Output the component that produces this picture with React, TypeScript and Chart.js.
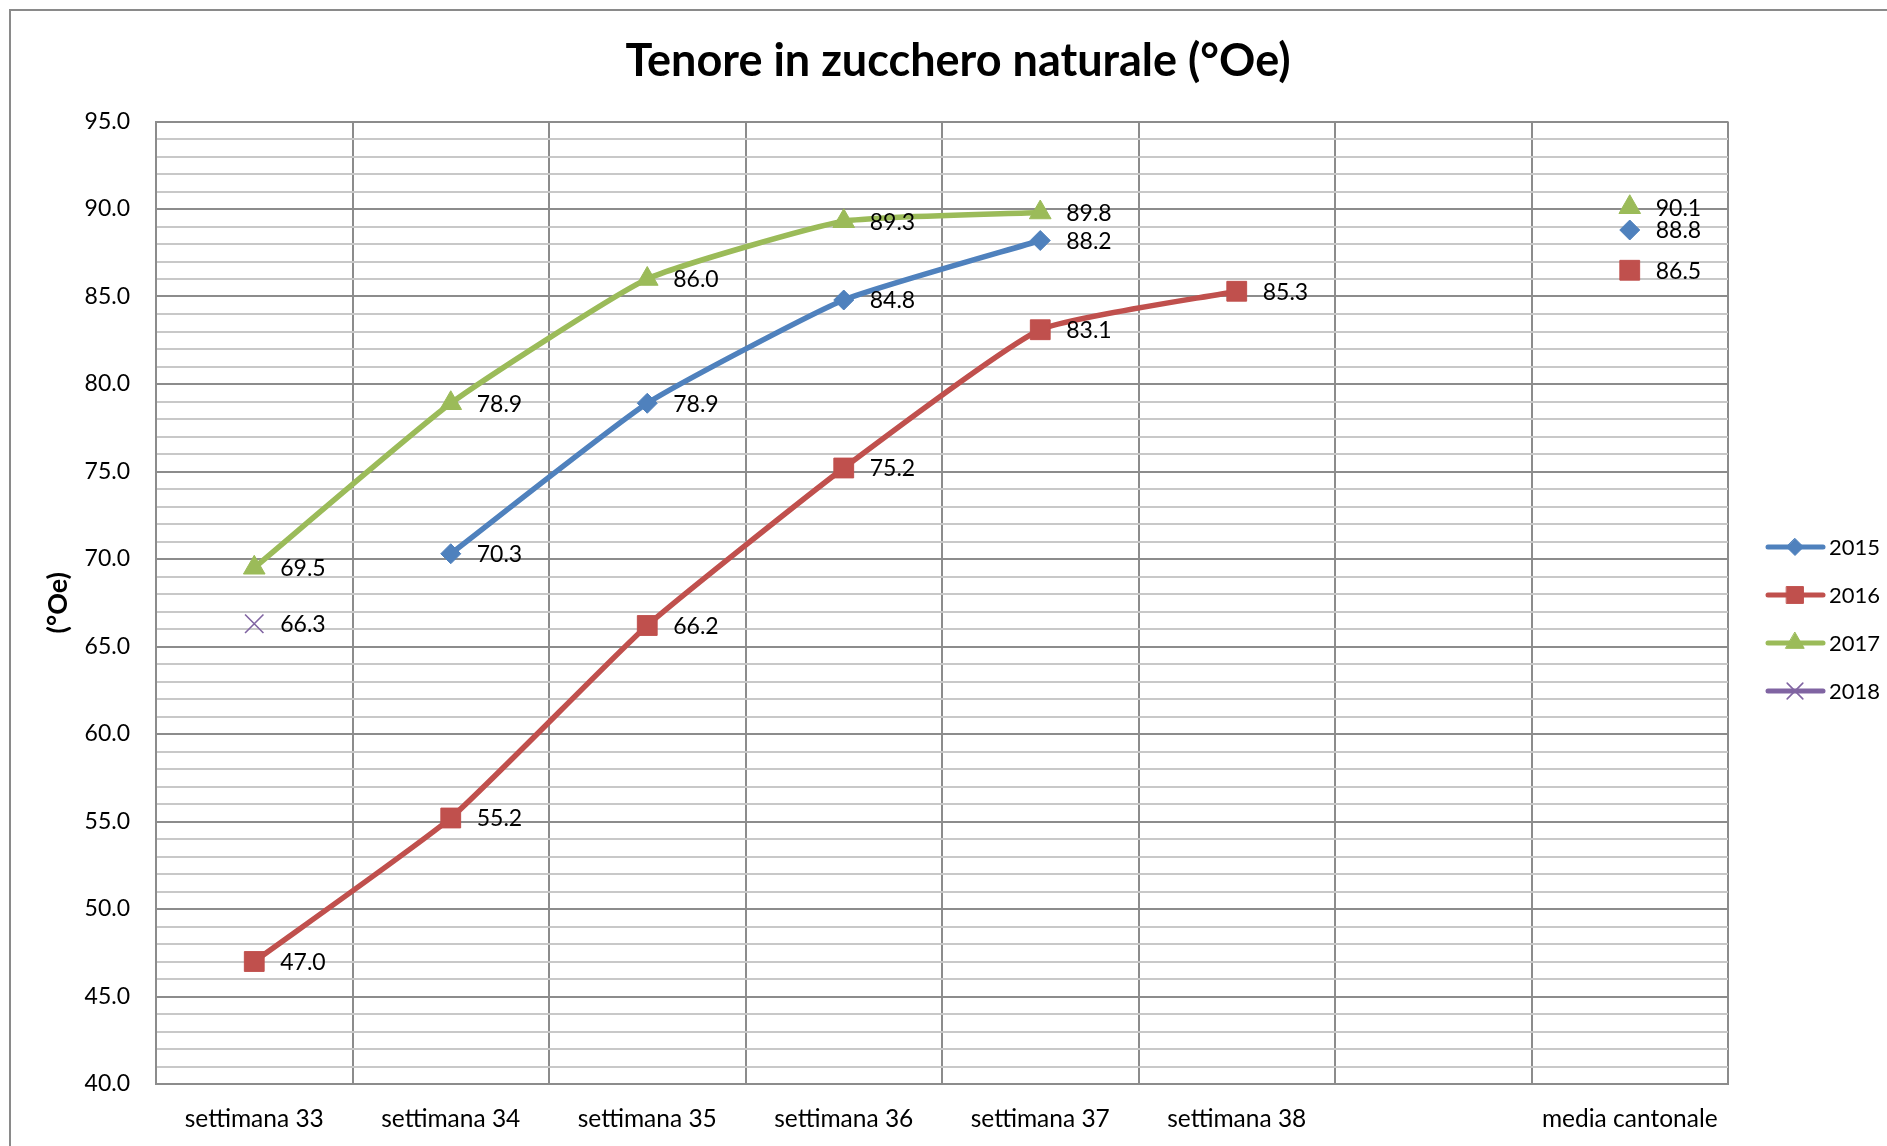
import React, { useEffect, useRef } from "react";
import { Chart, registerables } from "chart.js";

Chart.register(...registerables);

const TITLE = "Tenore in zucchero naturale (°Oe)";
const Y_TITLE = "(°Oe)";
const categories = [
  "settimana 33",
  "settimana 34",
  "settimana 35",
  "settimana 36",
  "settimana 37",
  "settimana 38",
  "",
  "media cantonale",
];
const series2015 = [null, 70.3, 78.9, 84.8, 88.2, null, null, 88.8];
const series2016 = [47.0, 55.2, 66.2, 75.2, 83.1, 85.3, null, 86.5];
const series2017 = [69.5, 78.9, 86.0, 89.3, 89.8, null, null, 90.1];
const series2018 = [66.3, null, null, null, null, null, null, null];
const seriesNames = ["2015", "2016", "2017", "2018"];
const Y_MIN = 40;
const Y_MAX = 95;

const COLORS = ["#4F81BD", "#C0504D", "#9BBB59", "#8064A2"];
const STYLES = ["rectRot", "rect", "triangle", "crossRot"];
const RADII = [10, 14, 12.5, 13];
const FONT = "Lato, 'Open Sans', sans-serif";

function drawMarker(ctx: CanvasRenderingContext2D, style: string, x: number, y: number, r: number, color: string) {
  ctx.save();
  ctx.fillStyle = color;
  ctx.strokeStyle = color;
  ctx.lineWidth = 1;
  ctx.beginPath();
  if (style === "rectRot") {
    ctx.moveTo(x, y - r);
    ctx.lineTo(x + r, y);
    ctx.lineTo(x, y + r);
    ctx.lineTo(x - r, y);
    ctx.closePath();
    ctx.fill();
    ctx.stroke();
  } else if (style === "rect") {
    const s = r * Math.SQRT1_2;
    ctx.rect(x - s, y - s, 2 * s, 2 * s);
    ctx.fill();
    ctx.stroke();
  } else if (style === "triangle") {
    ctx.moveTo(x, y - r);
    ctx.lineTo(x + r * 0.866, y + r * 0.5);
    ctx.lineTo(x - r * 0.866, y + r * 0.5);
    ctx.closePath();
    ctx.fill();
    ctx.stroke();
  } else {
    const s = r * Math.SQRT1_2;
    ctx.lineWidth = 1.6;
    ctx.moveTo(x - s, y - s);
    ctx.lineTo(x + s, y + s);
    ctx.moveTo(x + s, y - s);
    ctx.lineTo(x - s, y + s);
    ctx.stroke();
  }
  ctx.restore();
}

const framePlugin = {
  id: "frame",
  beforeDraw(chart: any) {
    const ctx = chart.ctx;
    ctx.save();
    ctx.fillStyle = "#ffffff";
    ctx.fillRect(0, 0, chart.width, chart.height);
    ctx.strokeStyle = "#8a8a8a";
    ctx.lineWidth = 2;
    ctx.strokeRect(10, 10, 1950, 1250);
    ctx.restore();
  },
  afterDraw(chart: any) {
    const ctx = chart.ctx;
    ctx.save();
    ctx.fillStyle = "#000";
    ctx.font = `bold 45px ${FONT}`;
    ctx.textAlign = "center";
    ctx.textBaseline = "middle";
    ctx.fillText(TITLE, 958, 61);
    // legend
    const lx0 = 1768, lx1 = 1823, mx = 1795, tx = 1829;
    chart.data.datasets.forEach((ds: any, i: number) => {
      const y = 547 + 48 * i;
      ctx.strokeStyle = COLORS[i];
      ctx.lineWidth = 5;
      ctx.lineCap = "round";
      ctx.beginPath();
      ctx.moveTo(lx0, y);
      ctx.lineTo(lx1, y);
      ctx.stroke();
      drawMarker(ctx, STYLES[i], mx, y, RADII[i] * 0.85, COLORS[i]);
      ctx.fillStyle = "#000";
      ctx.font = `22px ${FONT}`;
      ctx.textAlign = "left";
      ctx.textBaseline = "middle";
      ctx.fillText(ds.label, tx, y + 1);
    });
    ctx.restore();
  },
  afterDatasetsDraw(chart: any) {
    const ctx = chart.ctx;
    ctx.save();
    ctx.fillStyle = "#000";
    ctx.font = `23px ${FONT}`;
    ctx.textAlign = "left";
    ctx.textBaseline = "middle";
    chart.data.datasets.forEach((ds: any, i: number) => {
      const meta = chart.getDatasetMeta(i);
      meta.data.forEach((pt: any, j: number) => {
        const v = ds.data[j];
        if (v === null || v === undefined) return;
        ctx.fillText(Number(v).toFixed(1), pt.x + 26, pt.y + 1);
      });
    });
    ctx.restore();
  },
};

export default function App() {
  const ref = useRef<HTMLCanvasElement>(null);
  useEffect(() => {
    if (!ref.current) return;
    const all = [series2015, series2016, series2017, series2018];
    const chart = new Chart(ref.current, {
      type: "line",
      data: {
        labels: categories,
        datasets: all.map((d, i) => ({
          label: seriesNames[i],
          data: d,
          borderColor: COLORS[i],
          backgroundColor: COLORS[i],
          borderWidth: 5.5,
          pointStyle: STYLES[i] as any,
          pointRadius: RADII[i],
          pointBorderWidth: i === 3 ? 1.6 : 1,
          pointBackgroundColor: COLORS[i],
          pointBorderColor: COLORS[i],
          tension: 0.15,
          spanGaps: false,
        })),
      },
      options: {
        responsive: false,
        animation: false,
        devicePixelRatio: 1,
        layout: { padding: { top: 121.5, left: 0, right: 159, bottom: 0 } },
        plugins: {
          legend: { display: false },
          title: { display: false },
          tooltip: { enabled: false },
        },
        scales: {
          x: {
            type: "category",
            offset: true,
            grid: { offset: true, color: "#8c8c8c", lineWidth: 2, drawTicks: false },
            border: { display: true, color: "#8c8c8c", width: 2 },
            ticks: {
              padding: 20,
              autoSkip: false,
              maxRotation: 0,
              color: "#000",
              font: { family: FONT, size: 24.5 },
            },
            afterFit: (s: any) => {
              s.height = 62;
            },
          },
          y: {
            min: Y_MIN,
            max: Y_MAX,
            grid: {
              drawTicks: false,
              color: (c: any) => (c.tick && c.tick.value % 5 === 0 ? "#8c8c8c" : "#c8c8c8"),
              lineWidth: 2,
            },
            border: { display: true, color: "#8c8c8c", width: 2 },
            ticks: {
              stepSize: 1,
              autoSkip: false,
              padding: 26,
              color: "#000",
              font: { family: FONT, size: 23 },
              callback: (v: any) => (Number(v) % 5 === 0 ? Number(v).toFixed(1) : ""),
            },
            title: {
              display: true,
              text: Y_TITLE,
              color: "#000",
              font: { family: FONT, size: 27, weight: "bold" },
              padding: { top: 42, bottom: 0 },
            },
            afterFit: (s: any) => {
              s.width = 156;
            },
          },
        },
      },
      plugins: [framePlugin],
    });
    return () => chart.destroy();
  }, []);
  return (
    <div style={{ position: "fixed", left: 0, top: 0, width: 1887, height: 1146, background: "#fff" }}>
      <canvas ref={ref} width={1887} height={1146} style={{ display: "block" }} />
    </div>
  );
}
